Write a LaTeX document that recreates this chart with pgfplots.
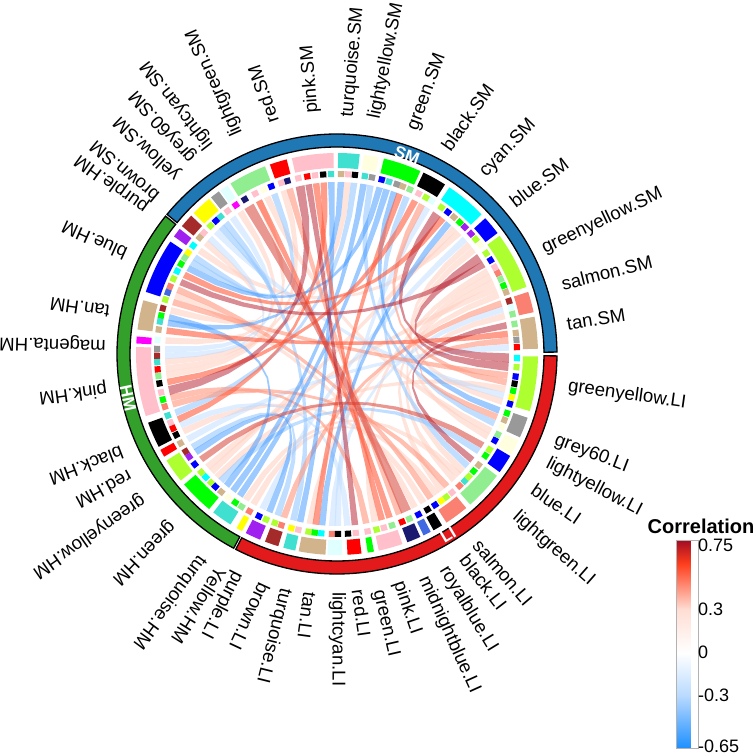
\documentclass[border=0pt]{standalone}
\usepackage{pgfplots}
\pgfplotsset{compat=1.18}
\usepackage{fontspec}
\setmainfont{Liberation Sans}

% module colours
\definecolor{greenyellow}{RGB}{173,255,47}
\definecolor{lightgreen}{RGB}{144,238,144}
\definecolor{turquoise}{RGB}{64,224,208}
\definecolor{lightcyan}{RGB}{224,255,255}
\definecolor{lightyellow}{RGB}{255,255,224}
\definecolor{salmon}{RGB}{250,128,114}
\definecolor{modtan}{RGB}{210,180,140}
\definecolor{modpink}{RGB}{255,192,203}
\definecolor{midnight}{RGB}{25,25,112}
\definecolor{royal}{RGB}{65,105,225}
\definecolor{grey60}{RGB}{153,153,153}
\definecolor{modbrown}{RGB}{165,42,42}
\definecolor{modpurple}{RGB}{160,32,240}
\definecolor{modgreen}{RGB}{0,255,0}
\definecolor{modcyan}{RGB}{0,255,255}
\definecolor{modmagenta}{RGB}{255,0,255}
\definecolor{modyellow}{RGB}{255,255,0}
\definecolor{modred}{RGB}{255,0,0}
\definecolor{modblue}{RGB}{0,0,255}
\definecolor{ringSM}{RGB}{31,119,180}
\definecolor{ringHM}{RGB}{51,160,44}
\definecolor{ringLI}{RGB}{227,26,28}

\pgfplotsset{
  chP/.style={draw=none,fill={rgb,255:red,255;green,205;blue,190},fill opacity=.55},
  chR/.style={draw=none,fill={rgb,255:red,255;green,150;blue,125},fill opacity=.6},
  chO/.style={draw=none,fill={rgb,255:red,255;green,90;blue,60},fill opacity=.6},
  chS/.style={draw=none,fill={rgb,255:red,215;green,65;blue,55},fill opacity=.55},
  chD/.style={draw=none,fill={rgb,255:red,180;green,25;blue,40},fill opacity=.5},
  chW/.style={draw=none,fill={rgb,255:red,190;green,220;blue,255},fill opacity=.5},
  chL/.style={draw=none,fill={rgb,255:red,150;green,200;blue,255},fill opacity=.6},
  chB/.style={draw=none,fill={rgb,255:red,60;green,150;blue,255},fill opacity=.5},
}

% ring piece from angle #1 to #2, radii #3 and #4
\newcommand\sector[5]{%
  \pgfmathsetmacro\nsteps{int(ceil((#2-#1)/2)+1)}%
  \gdef\pts{}%
  \foreach \i in {0,...,\nsteps}{%
    \pgfmathsetmacro\th{#1+(#2-#1)*\i/\nsteps}%
    \xdef\pts{\pts (\th,#3)}}%
  \foreach \i in {\nsteps,...,0}{%
    \pgfmathsetmacro\th{#1+(#2-#1)*\i/\nsteps}%
    \xdef\pts{\pts (\th,#4)}}%
  \edef\tmp{\noexpand\addplot[data cs=polar,#5] coordinates {\pts} -- cycle;}\tmp
}
\newcommand\block[3]{\sector{#1}{#2}{186}{201}{draw=none,fill=#3}}
\newcommand\sq[2]{%
  \pgfmathsetmacro\sa{#1-1}\pgfmathsetmacro\sb{#1+1}%
  \sector{\sa}{\sb}{177}{183}{draw=none,fill=#2}}

% one edge of a ribbon, quadratic curve pulled towards the centre
\newcommand\addcurve[2]{%
  \pgfmathsetmacro\xa{172*cos(#1)}\pgfmathsetmacro\ya{172*sin(#1)}%
  \pgfmathsetmacro\xb{172*cos(#2)}\pgfmathsetmacro\yb{172*sin(#2)}%
  \foreach \tv in {0,.1,.2,.3,.4,.5,.6,.7,.8,.9,1}{%
    \pgfmathsetmacro\px{(1-\tv)*(1-\tv)*\xa+\tv*\tv*\xb}%
    \pgfmathsetmacro\py{(1-\tv)*(1-\tv)*\ya+\tv*\tv*\yb}%
    \xdef\pts{\pts (\px,\py)}}%
}
\newcommand\chord[4][2.2]{%
  \pgfmathsetmacro\aA{#2-#1/2}\pgfmathsetmacro\aB{#2+#1/2}%
  \pgfmathsetmacro\bA{#3-#1/2}\pgfmathsetmacro\bB{#3+#1/2}%
  \gdef\pts{}%
  \addcurve{\aB}{\bA}\addcurve{\bB}{\aA}%
  \edef\tmp{\noexpand\addplot[#4] coordinates {\pts} -- cycle;}\tmp
}
% label at picture pixel x,y with its rotation
\newcommand\lfont{\fontsize{18.6}{22}\selectfont}
\newcommand\lab[4]{%
  \pgfmathsetmacro\lx{#1-337}\pgfmathsetmacro\ly{354-#2}%
  \edef\tmp{\noexpand\node[rotate=#3,anchor=west,inner sep=0pt,text height=9pt,text depth=0pt] at (axis cs:\lx,\ly) {\noexpand\lfont #4};}\tmp
}

\begin{document}
\begin{tikzpicture}
\useasboundingbox (0,0) rectangle (754pt,754pt);
\begin{axis}[
  at={(0,0)},anchor=south west,
  scale only axis,width=754pt,height=754pt,
  xmin=-337,xmax=417,ymin=-400,ymax=354,
  hide axis,clip=false,
  colormap={corr}{rgb255(0)=(30,144,255) rgb255(364)=(185,218,255) rgb255(664)=(255,255,255)
    rgb255(964)=(255,222,212) rgb255(1284)=(255,62,28) rgb255(1442)=(165,15,35)},
  point meta min=-0.664,point meta max=0.778,
  colorbar,
  colorbar style={
    at={(668pt,6pt)},anchor=south west,
    scale only axis,width=22pt,height=207pt,
    ytick={-0.65,-0.3,0,0.3,0.75},
    yticklabels={-0.65,-0.3,0,0.3,0.75},
    yticklabel pos=right,
    major tick length=0pt,
    axis line style={draw=black!30,line width=1pt},
    yticklabel style={font=\fontsize{18}{20}\selectfont,xshift=-4pt},
  },
]
% outer ring
\sector{0.5}{140.6}{207}{220}{draw=black,line width=1.3pt,fill=ringSM}
\sector{141.2}{242}{207}{220}{draw=black,line width=1.3pt,fill=ringHM}
\sector{242.6}{359.5}{207}{220}{draw=black,line width=1.3pt,fill=ringLI}

% module blocks
\block{1.5}{10.7}{modtan}
\block{12}{18}{salmon}
\block{19.5}{36}{greenyellow}
\block{37}{42.5}{modblue}
\block{44}{56}{modcyan}
\block{57.5}{64.5}{black}
\block{65.5}{76.5}{modgreen}
\block{78}{82.3}{lightyellow}
\block{83.5}{89.7}{turquoise}
\block{91}{103}{modpink}
\block{104.5}{109.5}{modred}
\block{111}{122}{lightgreen}
\block{123}{125.5}{lightcyan}
\block{126}{128.8}{grey60}
\block{129.5}{135.5}{modyellow}
\block{136.5}{140.5}{modbrown}
\block{141.5}{144.2}{modpurple}
\block{146}{162}{modblue}
\block{164.5}{173}{modtan}
\block{175}{177}{modmagenta}
\block{178}{198}{modpink}
\block{200}{207.5}{black}
\block{208.5}{210.7}{modred}
\block{212}{219}{greenyellow}
\block{220.5}{230.5}{modgreen}
\block{232}{238}{turquoise}
\block{240}{241.8}{modyellow}
\block{243}{247.5}{modpurple}
\block{249}{253}{modbrown}
\block{254.5}{258}{turquoise}
\block{259}{266.7}{modtan}
\block{267.3}{271.5}{lightcyan}
\block{273}{277}{modred}
\block{278.8}{280.6}{modgreen}
\block{282}{289}{modpink}
\block{290.5}{294.5}{midnight}
\block{295.5}{297.8}{royal}
\block{298.7}{301.5}{black}
\block{303}{310}{salmon}
\block{311.5}{322.7}{lightgreen}
\block{324}{329.5}{modblue}
\block{330}{334.5}{lightyellow}
\block{335.5}{341.5}{grey60}
\block{343.5}{359.3}{greenyellow}

% link ends, one small square per link
\sq{9.6}{lightgreen}\sq{6.7}{modtan}\sq{4.5}{grey60}\sq{2.2}{modred}
\sq{12.8}{lightgreen}\sq{15.1}{lightcyan}\sq{17.1}{modbrown}
\sq{20.1}{modtan}\sq{22.3}{modgreen}\sq{24.6}{lightgreen}\sq{26.7}{salmon}\sq{28.8}{modpink}\sq{31.4}{modblue}\sq{34}{greenyellow}
\sq{37.3}{lightyellow}\sq{39.6}{greenyellow}\sq{41.9}{modpurple}
\sq{44.8}{modpurple}\sq{47}{modgreen}\sq{49.5}{modtan}\sq{52}{modblue}\sq{54.5}{greenyellow}
\sq{58.3}{lightcyan}\sq{60.4}{greenyellow}\sq{63}{modpink}
\sq{66.1}{lightgreen}\sq{68.6}{modtan}\sq{70.6}{grey60}\sq{73.2}{turquoise}\sq{75.6}{modblue}
\sq{78.8}{grey60}\sq{81.1}{turquoise}
\sq{84.3}{black}\sq{86.5}{modpink}\sq{88.7}{modtan}
\sq{91.9}{turquoise}\sq{94.4}{black}\sq{97}{modpink}\sq{99.5}{modred}\sq{102.4}{modpink}
\sq{106}{midnight}\sq{108}{modpink}
\sq{111.4}{modblue}\sq{114}{lightyellow}\sq{117}{modpink}\sq{120.8}{midnight}
\sq{124.2}{modmagenta}\sq{127.4}{modpink}
\sq{130.3}{turquoise}\sq{132.3}{modblue}\sq{134.6}{greenyellow}
\sq{137.7}{modpink}\sq{139.7}{modtan}
\sq{143}{modcyan}
\sq{145.8}{modyellow}\sq{147.7}{lightgreen}\sq{150}{modgreen}\sq{152.6}{modcyan}\sq{155.3}{greenyellow}\sq{158}{salmon}\sq{160}{royal}\sq{162.4}{greenyellow}
\sq{165.3}{modbrown}\sq{167.7}{modgreen}\sq{169.6}{turquoise}\sq{172.2}{modtan}
\sq{175.5}{lightcyan}
\sq{178.4}{grey60}\sq{180.6}{modbrown}\sq{182.6}{turquoise}\sq{184.9}{modred}\sq{187}{lightgreen}\sq{189.4}{black}\sq{192.3}{modpink}\sq{194.7}{modgreen}\sq{197}{salmon}
\sq{200}{turquoise}\sq{202.4}{modpink}\sq{204.4}{modred}\sq{206.7}{black}
\sq{209.7}{modtan}
\sq{212.8}{modbrown}\sq{214.8}{modpurple}\sq{217.8}{modblue}
\sq{221.1}{greenyellow}\sq{223.2}{modcyan}\sq{225.7}{greenyellow}\sq{227.5}{modblue}\sq{230}{modtan}
\sq{232.8}{lightyellow}\sq{235.6}{modgreen}\sq{238}{lightgreen}
\sq{240.9}{salmon}
\sq{244.3}{modblue}\sq{246.8}{greenyellow}
\sq{249.8}{greenyellow}\sq{252}{salmon}
\sq{255.3}{modyellow}\sq{257.6}{modpink}
\sq{260.9}{greenyellow}\sq{262.9}{modgreen}\sq{265}{modcyan}
\sq{268.4}{salmon}\sq{270.3}{black}
\sq{273.5}{black}\sq{276}{modpink}
\sq{279.8}{modpink}
\sq{282.7}{greenyellow}\sq{285.1}{modpink}\sq{287.8}{lightgreen}
\sq{291.2}{modred}\sq{293.7}{lightgreen}
\sq{296.9}{modblue}
\sq{300.2}{black}
\sq{303}{modblue}\sq{305.3}{modyellow}\sq{307.4}{greenyellow}\sq{309.7}{modpink}
\sq{312.9}{salmon}\sq{315.2}{turquoise}\sq{317}{greenyellow}\sq{319.4}{modgreen}\sq{321.9}{modtan}
\sq{325.6}{modgreen}\sq{327.9}{greenyellow}
\sq{331.3}{modblue}\sq{333.4}{lightgreen}
\sq{336.2}{lightyellow}\sq{338.5}{modtan}\sq{340.8}{modgreen}
\sq{343.9}{modblue}\sq{346}{modyellow}\sq{348.2}{modgreen}\sq{350.5}{black}\sq{352.8}{modblue}\sq{355.8}{greenyellow}\sq{358.7}{modcyan}

% links, weakest first
\chord{12.8}{312.9}{chP}
\chord{20.1}{260.9}{chP}
\chord{22.3}{221.1}{chP}
\chord{24.6}{317}{chP}
\chord{26.7}{307.4}{chP}
\chord{28.8}{282.7}{chP}
\chord{37.3}{331.3}{chP}
\chord{39.6}{343.9}{chP}
\chord{44.8}{143}{chP}
\chord{47}{223.2}{chP}
\chord{86.5}{182.6}{chP}
\chord{108}{184.9}{chP}
\chord{114}{333.4}{chP}
\chord{117}{187}{chP}
\chord{124.2}{175.5}{chP}
\chord{139.7}{165.3}{chP}
\chord{160}{296.9}{chP}
\chord{206.7}{300.2}{chP}
\chord{225.7}{348.2}{chP}
\chord{238}{315.2}{chP}
\chord{240.9}{305.3}{chP}
\chord{2.2}{209.7}{chW}
\chord{15.1}{268.4}{chW}
\chord{41.9}{244.3}{chW}
\chord{58.3}{270.3}{chW}
\chord{127.4}{178.4}{chW}
\chord{134.6}{346}{chW}
\chord{137.7}{180.6}{chW}
\chord{204.4}{273.5}{chW}
\chord{66.1}{319.4}{chL}
\chord{78.8}{336.2}{chL}
\chord{84.3}{200}{chL}
\chord{111.4}{147.7}{chL}
\chord{130.3}{255.3}{chL}
\chord{132.3}{145.8}{chL}
\chord{212.8}{249.8}{chL}
\chord{227.5}{325.6}{chL}
\chord{4.5}{338.5}{chR}
\chord{17.1}{252}{chR}
\chord{60.4}{350.5}{chR}
\chord{106}{291.2}{chR}
\chord{158}{303}{chR}
\chord{162.4}{352.8}{chR}
\chord{194.7}{279.8}{chR}
\chord{197}{309.7}{chR}
\chord{49.5}{265}{chB}
\chord{70.6}{340.8}{chB}
\chord{73.2}{235.6}{chB}
\chord{75.6}{150}{chB}
\chord{81.1}{232.8}{chB}
\chord{88.7}{169.6}{chB}
\chord{91.9}{257.6}{chB}
\chord{167.7}{230}{chB}
\chord{214.8}{246.8}{chB}
\chord{6.7}{172.2}{chO}
\chord{52}{152.6}{chO}
\chord{63}{189.4}{chO}
\chord{68.6}{262.9}{chO}
\chord{94.4}{202.4}{chO}
\chord{97}{285.1}{chO}
\chord{117}{287.8}{chO}
\chord{217.8}{327.9}{chS}
\chord[3.5]{120.8}{293.7}{chS}
\chord{9.6}{321.9}{chD}
\chord{31.4}{155.3}{chD}
\chord[3]{34}{355.8}{chD}
\chord[3]{54.5}{358.7}{chD}
\chord{99.5}{276}{chD}
\chord[3]{102.4}{192.3}{chD}

% sector names: start pixel x, y, rotation
\lab{567}{326}{9}{tan.SM}
\lab{562}{286}{14}{salmon.SM}
\lab{543}{250}{25.6}{greenyellow.SM}
\lab{513}{205}{37.3}{blue.SM}
\lab{483}{175}{46.5}{cyan.SM}
\lab{447}{150}{54.7}{black.SM}
\lab{413}{130}{69.7}{green.SM}
\lab{375}{119}{78.7}{lightyellow.SM}
\lab{348}{117}{84.7}{turquoise.SM}
\lab{313}{113}{94.5}{pink.SM}
\lab{275}{122}{109}{red.SM}
\lab{238}{135}{113.8}{lightgreen.SM}
\lab{210}{147}{127.7}{lightcyan.SM}
\lab{193}{160}{131.6}{grey60.SM}
\lab{178}{177}{136.5}{yellow.SM}
\lab{158}{197}{140.5}{brown.SM}
\lab{147}{208}{144.4}{purple.HM}
\lab{127}{253}{155.7}{blue.HM}
\lab{110}{310}{172}{tan.HM}
\lab{106}{345}{178.5}{magenta.HM}
\lab{107}{388}{188}{pink.HM}
\lab{122}{450}{201}{black.HM}
\lab{130}{473}{208.7}{red.HM}
\lab{143}{498}{215}{greenyellow.HM}
\lab{172}{523}{226}{green.HM}
\lab{202}{557}{233.6}{turquoise.HM}
\lab{220}{568}{238}{Yellow.HM}
\lab{238}{572}{243}{purple.LI}
\lab{263}{583}{245}{brown.LI}
\lab{285}{588}{256}{turquoise.LI}
\lab{308}{592}{262.4}{tan.LI}
\lab{337}{592}{270}{lightcyan.LI}
\lab{356}{590}{278}{red.LI}
\lab{378}{590}{283}{green.LI}
\lab{398}{582}{289}{pink.LI}
\lab{423}{577}{294.3}{midnightblue.LI}
\lab{443}{568}{301.4}{royalblue.LI}
\lab{462}{558}{307.6}{black.LI}
\lab{475}{543}{310.5}{salmon.LI}
\lab{515}{515}{318.6}{lightgreen.LI}
\lab{532}{490}{325.5}{blue.LI}
\lab{547}{463}{332.7}{lightyellow.LI}
\lab{555}{440}{339}{grey60.LI}
\lab{568}{387}{352}{greenyellow.LI}

% group names on the ring
\node[rotate=-19.4,text=white,font=\bfseries\fontsize{17}{17}\selectfont] at (axis cs:70,199) {SM};
\node[rotate=-78,text=white,font=\bfseries\fontsize{17}{17}\selectfont] at (axis cs:-209,-44) {HM};
\node[rotate=31,text=white,font=\bfseries\fontsize{17}{17}\selectfont] at (axis cs:111,-181) {LI};
\node[font=\bfseries\fontsize{20}{22}\selectfont] at (axis cs:364,-172) {Correlation};
\end{axis}
\end{tikzpicture}
\end{document}
